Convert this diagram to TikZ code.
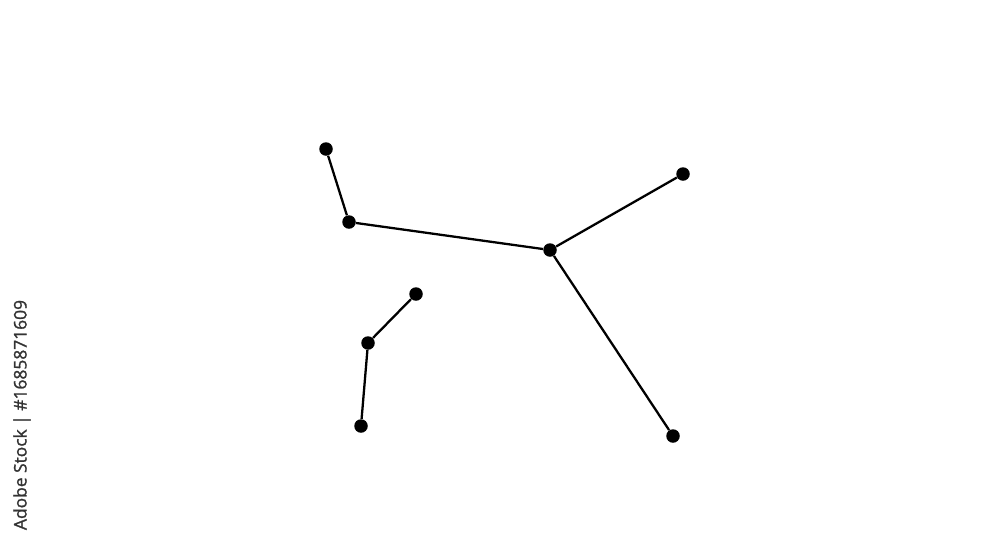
\documentclass[tikz,border=0pt]{standalone}
\usepackage{fontspec}
\setmainfont{Open Sans}
\newfontfamily\wmfont[FakeBold=1.3]{Open Sans}
\begin{document}
\begin{tikzpicture}[x=0.02cm,y=-0.02cm,
  star/.style={circle,fill=black,inner sep=0pt,minimum size=0.27cm},
  link/.style={line width=1.3pt,black}]
\useasboundingbox (0,0) rectangle (1000,545);
\node[star] (A) at (326,149) {};
\node[star] (B) at (349,222) {};
\node[star] (C) at (550,250) {};
\node[star] (D) at (683,174) {};
\node[star] (E) at (673,436) {};
\node[star] (F) at (416,294) {};
\node[star] (G) at (368,343) {};
\node[star] (H) at (361,426) {};
\draw[link] (A) -- (B) -- (C) -- (D);
\draw[link] (C) -- (E);
\draw[link] (F) -- (G) -- (H);
\node[rotate=90,text=black!80,font=\wmfont\fontsize{9.9pt}{11pt}\selectfont] (wm) at (22,415) {Adobe Stock | \#1685871609};
\end{tikzpicture}
\end{document}
